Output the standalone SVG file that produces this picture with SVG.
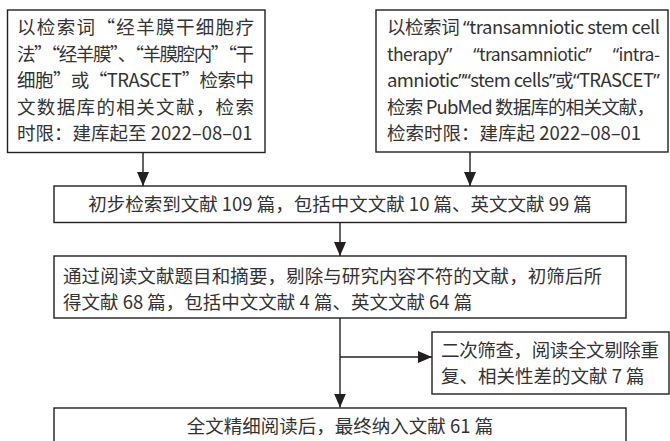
<svg xmlns="http://www.w3.org/2000/svg" width="670" height="441" viewBox="0 0 670 441">
<style>
.box{fill:#fff;stroke:#231f20;stroke-width:1.4}
.t{font-family:"Noto Sans CJK SC","Noto Sans",sans-serif;font-size:18.5px;fill:#333}
.q{font-family:"Noto Sans","Noto Sans CJK SC",sans-serif}
.c{text-anchor:middle}
.ln{stroke:#231f20;stroke-width:1.4;fill:none}
</style>
<defs>
<marker id="ah" markerUnits="userSpaceOnUse" markerWidth="16" markerHeight="12" refX="14" refY="6" orient="auto">
<path d="M0,0 L14,6 L0,12 Z" fill="#231f20"/>
</marker>
</defs>
<rect width="670" height="441" fill="#fff"/>
<g id="connectors">
<line class="ln" x1="143" y1="152.5" x2="143" y2="186" marker-end="url(#ah)"/>
<line class="ln" x1="470" y1="152" x2="470" y2="186" marker-end="url(#ah)"/>
<line class="ln" x1="340" y1="222.5" x2="340" y2="256" marker-end="url(#ah)"/>
<line class="ln" x1="340" y1="318" x2="340" y2="407.5" marker-end="url(#ah)"/>
<line class="ln" x1="340" y1="357" x2="432" y2="357" marker-end="url(#ah)"/>
</g>
<g id="n1">
<rect class="box" x="7.5" y="10" width="257.5" height="142.5"/>
<text class="t" x="17" y="34" textLength="237" lengthAdjust="spacing">以检索词“经羊膜干细胞疗</text>
<text class="t" x="17" y="60.5" textLength="237" lengthAdjust="spacing">法”“经羊膜”、“羊膜腔内”“干</text>
<text class="t" x="17" y="87" textLength="237" lengthAdjust="spacing">细胞”或“TRASCET”检索中</text>
<text class="t" x="17" y="113.5" textLength="237" lengthAdjust="spacing">文数据库的相关文献，检索</text>
<text class="t" x="17" y="140">时限：建库起至 2022–08–01</text>
</g>
<g id="n2">
<rect class="box" x="376" y="10" width="292" height="142"/>
<text class="t" x="387" y="34" textLength="273" lengthAdjust="spacing">以检索词 <tspan class="q">“</tspan>transamniotic stem cell</text>
<text class="t" x="387" y="60.5" style="font-size:17.5px;word-spacing:18px" textLength="273" lengthAdjust="spacing">therapy<tspan class="q">”</tspan> <tspan class="q">“</tspan>transamniotic<tspan class="q">”</tspan> <tspan class="q">“</tspan>intra-</text>
<text class="t" x="387" y="87" textLength="273" lengthAdjust="spacing">amniotic<tspan class="q">”“</tspan>stem cells<tspan class="q">”</tspan>或<tspan class="q">“</tspan>TRASCET<tspan class="q">”</tspan></text>
<text class="t" x="387" y="113.5" textLength="268" lengthAdjust="spacing">检索 PubMed 数据库的相关文献，</text>
<text class="t" x="387" y="140">检索时限：建库起 2022–08–01</text>
</g>
<g id="n3">
<rect class="box" x="54" y="186" width="572" height="36.5"/>
<text class="t c" x="340" y="211">初步检索到文献 109 篇，包括中文文献 10 篇、英文文献 99 篇</text>
</g>
<g id="n4">
<rect class="box" x="54" y="256" width="572" height="62"/>
<text class="t" x="63" y="282.5" textLength="539" lengthAdjust="spacing">通过阅读文献题目和摘要，剔除与研究内容不符的文献，初筛后所</text>
<text class="t" x="63" y="308.5">得文献 68 篇，包括中文文献 4 篇、英文文献 64 篇</text>
</g>
<g id="n5">
<rect class="box" x="432" y="332" width="237" height="62"/>
<text class="t" x="441" y="356.5" textLength="218" lengthAdjust="spacing">二次筛查，阅读全文剔除重</text>
<text class="t" x="441" y="383">复、相关性差的文献 7 篇</text>
</g>
<g id="n6">
<rect class="box" x="54" y="408" width="572" height="40"/>
<text class="t c" x="340" y="433">全文精细阅读后，最终纳入文献 61 篇</text>
</g>
</svg>
